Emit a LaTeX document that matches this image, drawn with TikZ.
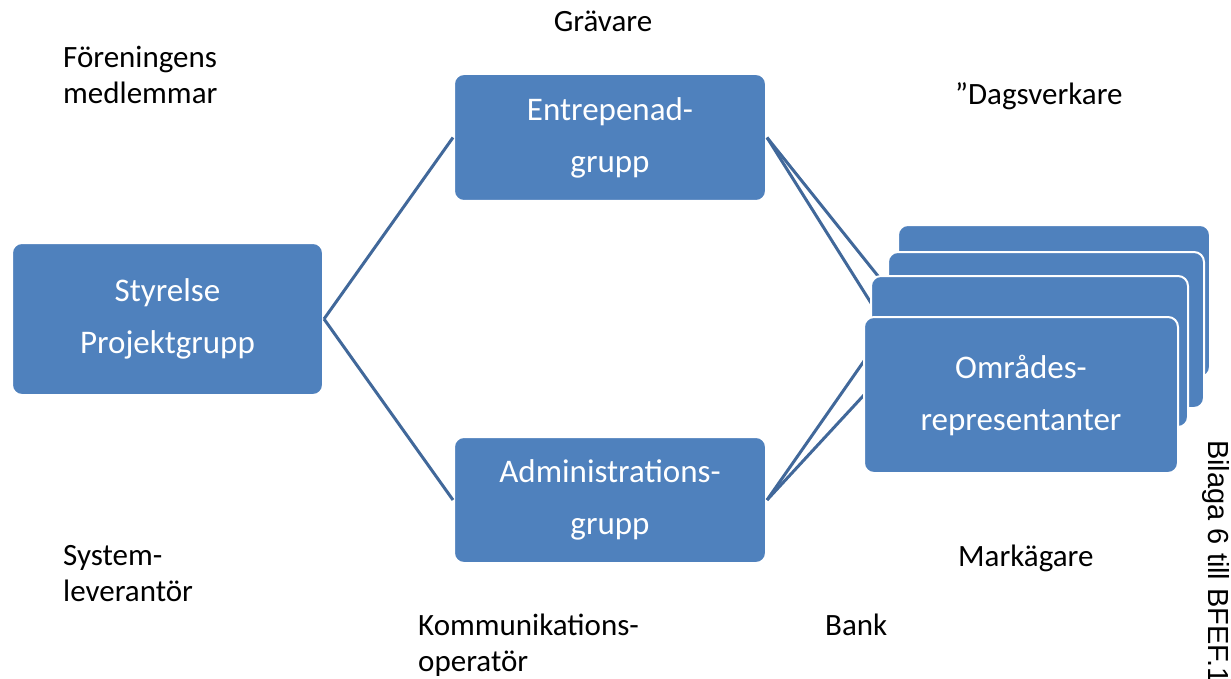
\documentclass[tikz,border=0pt]{standalone}
\usepackage{fontspec}
\setmainfont{Carlito}
\newfontfamily\arialfont{Liberation Sans}
\definecolor{boxblue}{HTML}{4F81BD}
\definecolor{lineblue}{HTML}{41689A}
\begin{document}
\begin{tikzpicture}[x=1pt,y=-1pt,
  box/.style={draw=white,line width=2pt,fill=boxblue,rounded corners=10pt,text=white,align=center,font=\fontsize{33}{52}\selectfont,inner sep=0pt},
  conn/.style={draw=lineblue,line width=3pt},
  lbl/.style={align=left,anchor=north west,inner sep=0pt,font=\fontsize{31}{36}\selectfont}]
\useasboundingbox (0,0) rectangle (1231,679);
\node[box,minimum width=311pt,minimum height=152pt] (sty) at (167.5,319) {Styrelse\\Projektgrupp};
\node[box,minimum width=312pt,minimum height=127pt] (ent) at (610,137.5) {Entrepenad-\\grupp};
\node[box,minimum width=312pt,minimum height=126pt] (adm) at (610,500) {Administrations-\\grupp};
% connector end points (hidden behind the stack)
\coordinate (b1) at (898,301);
\coordinate (b2) at (888,330);
\coordinate (b3) at (871,351);
\coordinate (b4) at (864,395);
\draw[conn] (sty.east) -- (ent.west);
\draw[conn] (sty.east) -- (adm.west);
\draw[conn] (ent.east) -- (b1);
\draw[conn] (ent.east) -- (b2);
\draw[conn] (adm.east) -- (b3);
\draw[conn] (adm.east) -- (b4);
% stack
\node[box,minimum width=312pt,minimum height=152pt] (o1) at (1054,301) {};
\node[box,minimum width=316pt,minimum height=156pt] (o2) at (1046,330) {};
\node[box,minimum width=317pt,minimum height=151pt] (o3) at (1029.5,351.5) {};
\node[box,minimum width=314pt,minimum height=156pt] (omr) at (1021,395) {Områdes-\\representanter};
% labels
\node[lbl] (fm) at (63,46) {Föreningens\\medlemmar};
\node[lbl,anchor=north] (gr) at (603,11) {Grävare};
\node[lbl] (dv) at (955,82) {”Dagsverkare};
\node[lbl] (sl) at (63,545) {System-\\leverantör};
\node[lbl] (ko) at (418,614) {Kommunikations-\\operatör};
\node[lbl] (bk) at (825,614) {Bank};
\node[lbl] (mk) at (958,545) {Markägare};
\node[anchor=base west,inner sep=0pt,rotate=-90,font=\arialfont\fontsize{29}{34}\selectfont] (bil) at (1208,440) {Bilaga 6 till BFEF.1};
\end{tikzpicture}
\end{document}
